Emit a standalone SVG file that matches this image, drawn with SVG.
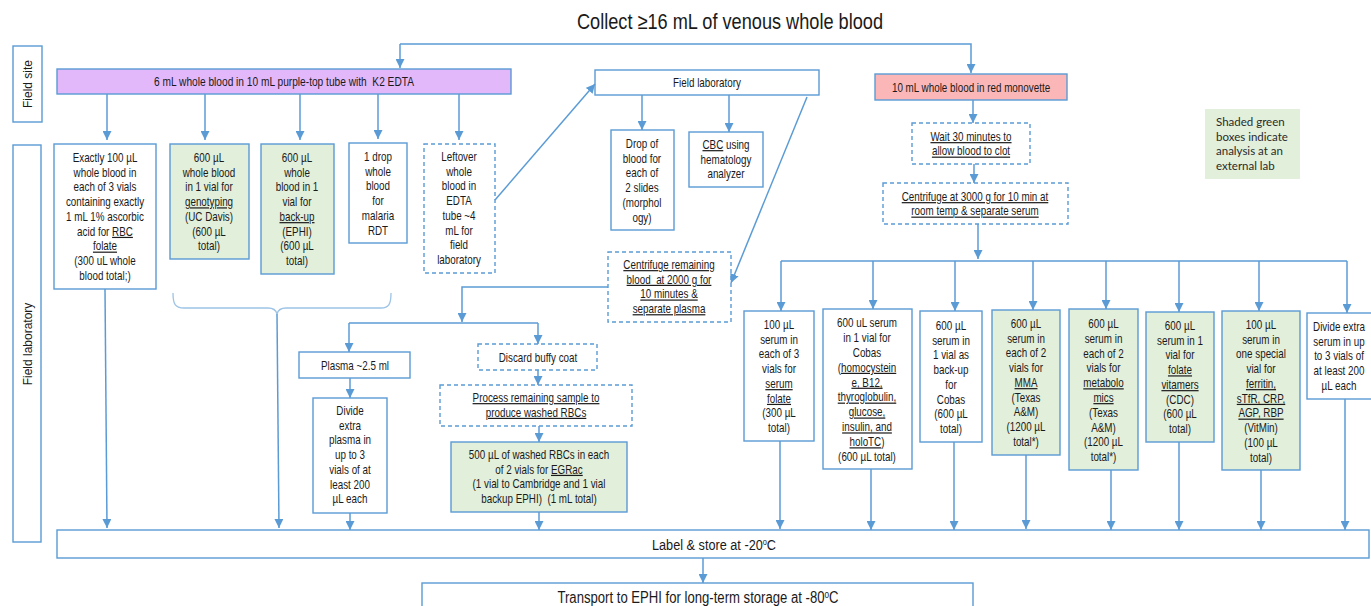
<svg xmlns="http://www.w3.org/2000/svg" width="1371" height="606" viewBox="0 0 1371 606">
<defs>
<marker id="ah" viewBox="0 0 10 10" refX="10" refY="5" markerWidth="9" markerHeight="9" markerUnits="userSpaceOnUse" orient="auto">
<path d="M0,0 L10,5 L0,10 Z" fill="#5B9BD5"/>
</marker>
<style>
.b{fill:#fff;stroke:#5B9BD5;stroke-width:1.4}
.g{fill:#E2EFDA;stroke:#5B9BD5;stroke-width:1.4}
.d{stroke-dasharray:4 3}
.t{font-family:"Liberation Sans",Arial,sans-serif;font-size:12px;text-anchor:middle;fill:#1a1a1a}
.u{text-decoration:underline}
.r{font-family:"Liberation Sans",Arial,sans-serif;font-size:12px;text-anchor:middle;fill:#1a1a1a}
.c path{fill:none;stroke:#5B9BD5;stroke-width:1.5}
.a{marker-end:url(#ah)}
.c path.br{fill:none;stroke:#9DC3E6;stroke-width:1.3}
</style>
</defs>
<rect width="1371" height="606" fill="#fff"/>

<text id="title" x="730" y="29" class="t" style="font-size:22px" textLength="306" lengthAdjust="spacingAndGlyphs">Collect ≥16 mL of venous whole blood</text>

<g id="lane-field-site"><rect x="13" y="46" width="29" height="76" class="b"/><text class="r" transform="translate(28,84) rotate(-90)" dy="4">Field site</text></g>
<g id="lane-field-lab"><rect x="13" y="145" width="28" height="397" class="b"/><text class="r" transform="translate(28,344) rotate(-90)" dy="4">Field laboratory</text></g>

<g id="purple"><rect x="57" y="69" width="454" height="25" class="b" style="fill:#E3B8FA"/><text transform="translate(284 0) scale(.82 1)" x="0" y="86" class="t" style="font-size:12.4px" xml:space="preserve">6 mL whole blood in 10 mL purple-top tube with  K2 EDTA</text></g>

<g id="n-rbcfolate"><rect x="54" y="144" width="102" height="145" class="b"/>
<text class="t" transform="translate(105 0) scale(.82 1)" y="162"><tspan x="0">Exactly 100 µL</tspan><tspan x="0" dy="14.75">whole blood in</tspan><tspan x="0" dy="14.75">each of 3 vials</tspan><tspan x="0" dy="14.75">containing exactly</tspan><tspan x="0" dy="14.75">1 mL 1% ascorbic</tspan><tspan x="0" dy="14.75">acid for <tspan class="u">RBC</tspan></tspan><tspan x="0" dy="14.75" class="u">folate</tspan><tspan x="0" dy="14.75">(300 uL whole</tspan><tspan x="0" dy="14.75">blood total;)</tspan></text></g>

<g id="n-genotyping"><rect x="170" y="144" width="79" height="115" class="g"/>
<text class="t" transform="translate(209 0) scale(.82 1)" y="162"><tspan x="0">600 µL</tspan><tspan x="0" dy="14.75">whole blood</tspan><tspan x="0" dy="14.75">in 1 vial for</tspan><tspan x="0" dy="14.75" class="u">genotyping</tspan><tspan x="0" dy="14.75">(UC Davis)</tspan><tspan x="0" dy="14.75">(600 µL</tspan><tspan x="0" dy="14.75">total)</tspan></text></g>

<g id="n-backup"><rect x="261" y="144" width="73" height="130" class="g"/>
<text class="t" transform="translate(297 0) scale(.82 1)" y="162"><tspan x="0">600 µL</tspan><tspan x="0" dy="14.75">whole</tspan><tspan x="0" dy="14.75">blood in 1</tspan><tspan x="0" dy="14.75">vial for</tspan><tspan x="0" dy="14.75" class="u">back-up</tspan><tspan x="0" dy="14.75">(EPHI)</tspan><tspan x="0" dy="14.75">(600 µL</tspan><tspan x="0" dy="14.75">total)</tspan></text></g>

<g id="n-malaria"><rect x="349" y="143" width="58" height="100" class="b"/>
<text class="t" transform="translate(378 0) scale(.82 1)" y="161"><tspan x="0">1 drop</tspan><tspan x="0" dy="14.75">whole</tspan><tspan x="0" dy="14.75">blood</tspan><tspan x="0" dy="14.75">for</tspan><tspan x="0" dy="14.75">malaria</tspan><tspan x="0" dy="14.75">RDT</tspan></text></g>

<g id="n-leftover"><rect x="424" y="144" width="71" height="129" class="b d"/>
<text class="t" transform="translate(459 0) scale(.82 1)" y="161"><tspan x="0">Leftover</tspan><tspan x="0" dy="14.75">whole</tspan><tspan x="0" dy="14.75">blood in</tspan><tspan x="0" dy="14.75">EDTA</tspan><tspan x="0" dy="14.75">tube ~4</tspan><tspan x="0" dy="14.75">mL for</tspan><tspan x="0" dy="14.75">field</tspan><tspan x="0" dy="14.75">laboratory</tspan></text></g>

<g id="n-fieldlab"><rect x="595" y="70" width="224" height="25" class="b"/><text transform="translate(707 0) scale(.82 1)" x="0" y="87" class="t">Field laboratory</text></g>

<g id="n-drop"><rect x="611" y="130" width="63" height="100" class="b"/>
<text class="t" transform="translate(642 0) scale(.82 1)" y="148"><tspan x="0">Drop of</tspan><tspan x="0" dy="14.75">blood for</tspan><tspan x="0" dy="14.75">each of</tspan><tspan x="0" dy="14.75">2 slides</tspan><tspan x="0" dy="14.75">(morphol</tspan><tspan x="0" dy="14.75">ogy)</tspan></text></g>

<g id="n-cbc"><rect x="689" y="132" width="74" height="55" class="b"/>
<text class="t" transform="translate(726 0) scale(.82 1)" y="149"><tspan x="0"><tspan class="u">CBC</tspan> using</tspan><tspan x="0" dy="14.75">hematology</tspan><tspan x="0" dy="14.75">analyzer</tspan></text></g>

<g id="n-centrifuge2000"><rect x="608" y="252" width="123" height="70" class="b d"/>
<text class="t u" transform="translate(669 0) scale(.82 1)" y="269" xml:space="preserve"><tspan x="0">Centrifuge remaining</tspan><tspan x="0" dy="14.7">blood  at 2000 g for</tspan><tspan x="0" dy="14.7">10 minutes &amp;</tspan><tspan x="0" dy="14.7">separate plasma</tspan></text></g>

<g id="n-plasma"><rect x="299" y="352" width="111" height="26" class="b"/><text transform="translate(355 0) scale(.82 1)" x="0" y="370" class="t">Plasma ~2.5 ml</text></g>

<g id="n-divideplasma"><rect x="313" y="398" width="74" height="115" class="b"/>
<text class="t" transform="translate(350 0) scale(.82 1)" y="415"><tspan x="0">Divide</tspan><tspan x="0" dy="14.75">extra</tspan><tspan x="0" dy="14.75">plasma in</tspan><tspan x="0" dy="14.75">up to 3</tspan><tspan x="0" dy="14.75">vials of at</tspan><tspan x="0" dy="14.75">least 200</tspan><tspan x="0" dy="14.75">µL each</tspan></text></g>

<g id="n-discard"><rect x="478" y="344" width="119" height="26" class="b d"/><text transform="translate(538 0) scale(.82 1)" x="0" y="362" class="t">Discard buffy coat</text></g>

<g id="n-process"><rect x="440" y="385" width="192" height="41" class="b d"/>
<text class="t u" transform="translate(536 0) scale(.82 1)" y="402"><tspan x="0">Process remaining sample to</tspan><tspan x="0" dy="14.7">produce washed RBCs</tspan></text></g>

<g id="n-egrac"><rect x="451" y="442" width="176" height="70" class="g"/>
<text class="t" transform="translate(539 0) scale(.82 1)" y="459" xml:space="preserve"><tspan x="0">500 µL of washed RBCs in each</tspan><tspan x="0" dy="14.75">of 2 vials for <tspan class="u">EGRac</tspan></tspan><tspan x="0" dy="14.75">(1 vial to Cambridge and 1 vial</tspan><tspan x="0" dy="14.75">backup EPHI)  (1 mL total)</tspan></text></g>

<g id="n-red"><rect x="875" y="74" width="192" height="26" class="b" style="fill:#FBB7B7"/><text transform="translate(971 0) scale(.82 1)" x="0" y="92" class="t">10 mL whole blood in red monovette</text></g>

<g id="n-wait"><rect x="912" y="123" width="118" height="41" class="b d"/>
<text class="t u" transform="translate(971 0) scale(.82 1)" y="141"><tspan x="0">Wait 30 minutes to</tspan><tspan x="0" dy="14.5">allow blood to clot</tspan></text></g>

<g id="n-centrifuge3000"><rect x="883" y="183" width="185" height="41" class="b d"/>
<text class="t u" transform="translate(975 0) scale(.82 1)" y="201"><tspan x="0">Centrifuge at 3000 g for 10 min at</tspan><tspan x="0" dy="14.5">room temp &amp; separate serum</tspan></text></g>

<g id="legend"><rect x="1205" y="109" width="95" height="70" fill="#E2EFDA"/>
<text y="126" style="font-family:Lato,'Open Sans',sans-serif;font-size:11.5px;fill:#2a2a2a"><tspan x="1216">Shaded green</tspan><tspan x="1216" dy="14.7">boxes indicate</tspan><tspan x="1216" dy="14.7">analysis at an</tspan><tspan x="1216" dy="14.7">external lab</tspan></text></g>

<g id="n-serumfolate"><rect x="744" y="311" width="70" height="130" class="b"/>
<text class="t" transform="translate(779 0) scale(.82 1)" y="329"><tspan x="0">100 µL</tspan><tspan x="0" dy="14.75">serum in</tspan><tspan x="0" dy="14.75">each of 3</tspan><tspan x="0" dy="14.75">vials for</tspan><tspan x="0" dy="14.75" class="u">serum</tspan><tspan x="0" dy="14.75" class="u">folate</tspan><tspan x="0" dy="14.75">(300 µL</tspan><tspan x="0" dy="14.75">total)</tspan></text></g>

<g id="n-cobas"><rect x="823" y="309" width="89" height="160" class="b"/>
<text class="t" transform="translate(867 0) scale(.82 1)" y="327"><tspan x="0">600 uL serum</tspan><tspan x="0" dy="14.9">in 1 vial for</tspan><tspan x="0" dy="14.9">Cobas</tspan><tspan x="0" dy="14.9">(<tspan class="u">homocystein</tspan></tspan><tspan x="0" dy="14.9" class="u">e, B12,</tspan><tspan x="0" dy="14.9" class="u">thyroglobulin,</tspan><tspan x="0" dy="14.9" class="u">glucose,</tspan><tspan x="0" dy="14.9" class="u">insulin, and</tspan><tspan x="0" dy="14.9"><tspan class="u">holoTC</tspan>)</tspan><tspan x="0" dy="14.9">(600 µL total)</tspan></text></g>

<g id="n-cobasbackup"><rect x="920" y="311" width="62" height="131" class="b"/>
<text class="t" transform="translate(951 0) scale(.82 1)" y="330"><tspan x="0">600 µL</tspan><tspan x="0" dy="14.75">serum in</tspan><tspan x="0" dy="14.75">1 vial as</tspan><tspan x="0" dy="14.75">back-up</tspan><tspan x="0" dy="14.75">for</tspan><tspan x="0" dy="14.75">Cobas</tspan><tspan x="0" dy="14.75">(600 µL</tspan><tspan x="0" dy="14.75">total)</tspan></text></g>

<g id="n-mma"><rect x="992" y="310" width="68" height="145" class="g"/>
<text class="t" transform="translate(1026 0) scale(.82 1)" y="328"><tspan x="0">600 µL</tspan><tspan x="0" dy="14.75">serum in</tspan><tspan x="0" dy="14.75">each of 2</tspan><tspan x="0" dy="14.75">vials for</tspan><tspan x="0" dy="14.75" class="u">MMA</tspan><tspan x="0" dy="14.75">(Texas</tspan><tspan x="0" dy="14.75">A&amp;M)</tspan><tspan x="0" dy="14.75">(1200 µL</tspan><tspan x="0" dy="14.75">total*)</tspan></text></g>

<g id="n-metabolomics"><rect x="1069" y="309" width="69" height="161" class="g"/>
<text class="t" transform="translate(1103.5 0) scale(.82 1)" y="328"><tspan x="0">600 µL</tspan><tspan x="0" dy="14.8">serum in</tspan><tspan x="0" dy="14.8">each of 2</tspan><tspan x="0" dy="14.8">vials for</tspan><tspan x="0" dy="14.8" class="u">metabolo</tspan><tspan x="0" dy="14.8" class="u">mics</tspan><tspan x="0" dy="14.8">(Texas</tspan><tspan x="0" dy="14.8">A&amp;M)</tspan><tspan x="0" dy="14.8">(1200 µL</tspan><tspan x="0" dy="14.8">total*)</tspan></text></g>

<g id="n-vitamers"><rect x="1146" y="312" width="68" height="130" class="g"/>
<text class="t" transform="translate(1180 0) scale(.82 1)" y="330"><tspan x="0">600 µL</tspan><tspan x="0" dy="14.75">serum in 1</tspan><tspan x="0" dy="14.75">vial for</tspan><tspan x="0" dy="14.75" class="u">folate</tspan><tspan x="0" dy="14.75" class="u">vitamers</tspan><tspan x="0" dy="14.75">(CDC)</tspan><tspan x="0" dy="14.75">(600 µL</tspan><tspan x="0" dy="14.75">total)</tspan></text></g>

<g id="n-ferritin"><rect x="1222" y="311" width="78" height="159" class="g"/>
<text class="t" transform="translate(1261 0) scale(.82 1)" y="329"><tspan x="0">100 µL</tspan><tspan x="0" dy="14.75">serum in</tspan><tspan x="0" dy="14.75">one special</tspan><tspan x="0" dy="14.75">vial for</tspan><tspan x="0" dy="14.75" class="u">ferritin,</tspan><tspan x="0" dy="14.75" class="u">sTfR, CRP,</tspan><tspan x="0" dy="14.75" class="u">AGP, RBP</tspan><tspan x="0" dy="14.75">(VitMin)</tspan><tspan x="0" dy="14.75">(100 µL</tspan><tspan x="0" dy="14.75">total)</tspan></text></g>

<g id="n-divideserum"><rect x="1307" y="313" width="80" height="86" class="b"/>
<text class="t" transform="translate(1339 0) scale(.82 1)" y="331"><tspan x="0">Divide extra</tspan><tspan x="0" dy="14.75">serum in up</tspan><tspan x="0" dy="14.75">to 3 vials of</tspan><tspan x="0" dy="14.75">at least 200</tspan><tspan x="0" dy="14.75">µL each</tspan></text></g>

<g id="n-label"><rect x="57" y="530" width="1312" height="28" class="b"/><text transform="translate(714 0) scale(.82 1)" x="0" y="550" class="t" style="font-size:15.5px">Label &amp; store at -20<tspan style="font-size:9px" dy="-5">o</tspan><tspan dy="5">C</tspan></text></g>

<g id="n-transport"><rect x="422" y="583" width="551" height="30" class="b"/><text transform="translate(698 0) scale(.82 1)" x="0" y="603" class="t" style="font-size:16px">Transport to EPHI for long-term storage at -80<tspan style="font-size:10px" dy="-5">o</tspan><tspan dy="5">C</tspan></text></g>

<g id="connectors" class="c">
<path class="a" d="M400,44 H971 V73"/>
<path class="a" d="M400,44 V68"/>
<path class="a" d="M107,94 V140"/>
<path class="a" d="M205,94 V140"/>
<path class="a" d="M300,94 V140"/>
<path class="a" d="M378,94 V139"/>
<path class="a" d="M459,94 V140"/>
<path class="a" d="M495,200 L595,84"/>
<path class="a" d="M642,95 V130"/>
<path class="a" d="M729,95 V132"/>
<path class="a" d="M807,97 L731,283"/>
<path class="a" d="M608,287 H462 V322"/>
<path d="M349,323 H538"/>
<path class="a" d="M349,323 V352"/>
<path class="a" d="M538,323 V344"/>
<path class="a" d="M350,378 V398"/>
<path class="a" d="M350,513 V530"/>
<path class="a" d="M538,370 V385"/>
<path class="a" d="M539,426 V442"/>
<path class="a" d="M539,512 V530"/>
<path class="a" d="M105,289 L107,528"/>
<path class="br" d="M173,293 C173,304 175,308 184,308 H268 C273,308 276,310 277,314 C278,310 281,308 286,308 H381 C389,308 391,304 391,293"/>
<path class="a" d="M277,314 L279,528"/>
<path class="a" d="M973,100 V123"/>
<path class="a" d="M974,164 V183"/>
<path class="a" d="M978,224 V259"/>
<path d="M781,261 H1347"/>
<path class="a" d="M781,261 V311"/>
<path class="a" d="M873,261 V309"/>
<path class="a" d="M955,261 V311"/>
<path class="a" d="M1033,261 V310"/>
<path class="a" d="M1106,261 V309"/>
<path class="a" d="M1179,261 V312"/>
<path class="a" d="M1259,261 V311"/>
<path class="a" d="M1347,261 V313"/>
<path class="a" d="M780,441 V529"/>
<path class="a" d="M871,469 V530"/>
<path class="a" d="M954,442 V530"/>
<path class="a" d="M1026,455 V529"/>
<path class="a" d="M1111,470 V530"/>
<path class="a" d="M1179,442 V530"/>
<path class="a" d="M1261,470 V530"/>
<path class="a" d="M1345,399 V530"/>
<path class="a" d="M703,558 V583"/>
</g>
</svg>
